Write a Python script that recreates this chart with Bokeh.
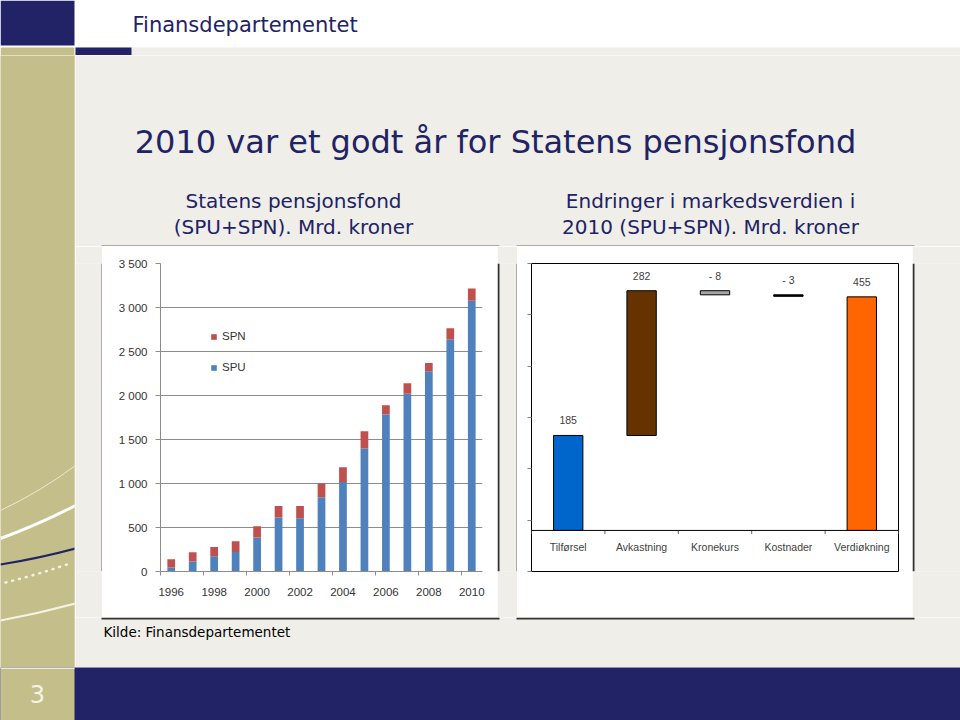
from bokeh.plotting import figure
from bokeh.layouts import column, row
from bokeh.models import (Range1d, FactorRange, FixedTicker, Legend, LegendItem,
                          Span, ColumnDataSource)
from bokeh.core.properties import value
from bokeh.embed import file_html
from bokeh.resources import INLINE

# ---------------- data ----------------
years = list(range(1996, 2011))
spu = [45, 113, 172, 222, 386, 614, 604, 845, 1016, 1399, 1784, 2019, 2275, 2640, 3077]
spn = [95, 107, 106, 123, 129, 131, 141, 155, 169, 196, 106, 121, 95, 125, 138]
left_y_ticks = [0, 500, 1000, 1500, 2000, 2500, 3000, 3500]
left_x_label_years = years[::2]

wf_cats = ["Tilførsel", "Avkastning", "Kronekurs", "Kostnader", "Verdiøkning"]
wf_vals = [185, 282, -8, -3, 455]
wf_colors = ["#0066CC", "#663300", "#A6A6A6", "#000000", "#FF6600"]
wf_ticks = [-80, 20, 120, 220, 320, 420, 520]

header_text = "Finansdepartementet"
title_text = "2010 var et godt år for Statens pensjonsfond"
sub_left = ["Statens pensjonsfond", "(SPU+SPN). Mrd. kroner"]
sub_right = ["Endringer i markedsverdien i", "2010 (SPU+SPN). Mrd. kroner"]
source_text = "Kilde: Finansdepartementet"
page_no = "3"

# ---------------- style ----------------
NAVY = "#222266"
OLIVE = "#C4BE8B"
GREY = "#EFEEE8"
EDGE_LT = "#6a6a6a"
EDGE_DK = "#333333"
SLIDE_FONT = value("DejaVu Sans")
CHART_FONT = "Liberation Sans"
BOX_W, BOX_H = 395, 371
GAP_L, GAP_M, GAP_R = 27, 20, 48


def deco(w, h, x1, y1, bg, y0=0):
    p = figure(width=w, height=h, x_range=Range1d(0, x1), y_range=Range1d(y1, y0),
               output_backend="svg", toolbar_location=None, min_border=0,
               x_axis_location=None, y_axis_location=None)
    p.grid.visible = False
    p.outline_line_color = None
    p.background_fill_color = bg
    p.border_fill_color = bg
    return p


# ---------------- header ----------------
hdr = deco(960, 55, 960, 55, "white")
hdr.quad(left=[0, 0, 74, 75], right=[74, 74, 960, 131], top=[0, 47, 47, 47],
         bottom=[45, 55, 55, 55], fill_color=[NAVY, OLIVE, GREY, NAVY], line_color=None)
hdr.text(x=[132], y=[24], text=[header_text], text_font=SLIDE_FONT, text_font_size="21px",
         text_color=NAVY, text_baseline="middle")

# ---------------- left decorative strip ----------------
strip = deco(75, 612, 75, 667, OLIVE, y0=55)
strip.quadratic(x0=0, y0=510, x1=75, y1=465, cx=40, cy=491, line_color="#ECE9CF", line_width=1)
strip.quadratic(x0=0, y0=538, x1=75, y1=505, cx=38, cy=524, line_color="white", line_width=3)
strip.quadratic(x0=0, y0=564, x1=75, y1=548, cx=38, cy=558, line_color=NAVY, line_width=2)
strip.quadratic(x0=5, y0=582, x1=72, y1=562, cx=38, cy=574, line_color="#F4F2E2",
                line_width=2.5, line_dash="1 6", line_cap="round")
strip.quadratic(x0=0, y0=620, x1=75, y1=603, cx=38, cy=613, line_color="#F4F2E2", line_width=2)
strip.quad(left=[74], right=[75], top=[55], bottom=[667], fill_color="#E4E1CC", line_color=None)

# box edges (frames of the two pasted charts), in slide-content pixels
box_lefts = [GAP_L, GAP_L + BOX_W + GAP_M]
box_rights = [b + BOX_W for b in box_lefts]

# ---------------- title band ----------------
tb = deco(885, 191, 885, 191, GREY)
tb.text(x=[420], y=[86], text=[title_text], text_font=SLIDE_FONT, text_font_size="32px",
        text_color=NAVY, text_align="center", text_baseline="middle")
tb.text(x=[218, 218], y=[145, 171], text=sub_left, text_font=SLIDE_FONT, text_font_size="20px",
        text_color=NAVY, text_align="center", text_baseline="middle")
tb.text(x=[635, 635], y=[145, 171], text=sub_right, text_font=SLIDE_FONT, text_font_size="20px",
        text_color=NAVY, text_align="center", text_baseline="middle")
tb.quad(left=[b - 1 for b in box_lefts], right=[r + 2 for r in box_rights],
        top=[190, 190], bottom=[191, 191], fill_color=EDGE_LT, line_color=None)

# ---------------- left chart: stacked bars ----------------
lc = figure(width=BOX_W, height=BOX_H, x_range=Range1d(1995.5, 2010.5), y_range=Range1d(0, 3500),
            output_backend="svg", toolbar_location=None,
            min_border_left=58, min_border_right=15, min_border_top=17, min_border_bottom=46)
lc.background_fill_color = "white"
lc.border_fill_color = "white"
lc.outline_line_color = None
src = ColumnDataSource(dict(year=years, SPU=spu, SPN=spn))
rs = lc.vbar_stack(["SPU", "SPN"], x="year", width=0.36, source=src,
                   fill_color=["#4F81BD", "#C0504D"], line_color=None)
lc.xgrid.visible = False
lc.ygrid.ticker = FixedTicker(ticks=left_y_ticks)
lc.ygrid.grid_line_color = "#8C8C8C"
lc.yaxis.ticker = FixedTicker(ticks=left_y_ticks)
lc.yaxis.major_label_overrides = {t: f"{t:,}".replace(",", " ") for t in left_y_ticks}
lc.xaxis.ticker = FixedTicker(ticks=left_x_label_years,
                              minor_ticks=[y - 0.5 for y in left_x_label_years])
for ax in (lc.xaxis, lc.yaxis):
    ax.axis_line_color = "#8C8C8C"
    ax.major_tick_line_color = "#8C8C8C"
    ax.minor_tick_line_color = "#8C8C8C"
    ax.major_label_text_font = CHART_FONT
    ax.major_label_text_font_size = "11.5px"
    ax.major_label_text_color = "#333333"
    ax.major_tick_in = 0
    ax.minor_tick_in = 0
lc.yaxis.major_tick_out = 5
lc.yaxis.minor_tick_out = 0
lc.yaxis.major_label_standoff = 8
lc.xaxis.major_tick_out = 0
lc.xaxis.minor_tick_out = 4
lc.xaxis.major_label_standoff = 12
legend = Legend(items=[LegendItem(label="SPN", renderers=[rs[1]]),
                       LegendItem(label="SPU", renderers=[rs[0]])],
                location=(50, 196), glyph_width=7, glyph_height=7, label_height=16,
                spacing=15, padding=0, margin=0, border_line_color=None,
                background_fill_alpha=0, label_standoff=5,
                label_text_font=CHART_FONT, label_text_font_size="11.5px",
                label_text_color="#333333")
lc.add_layout(legend)

# ---------------- right chart: waterfall ----------------
bottoms, tops = [], []
run = 0
for i, v in enumerate(wf_vals):
    if i == len(wf_vals) - 1:
        b, t = 0, v
    else:
        b, t = run, run + v
        run += v
    bottoms.append(min(b, t))
    tops.append(max(b, t))
wf_labels = [str(v) if v >= 0 else f"- {abs(v)}" for v in wf_vals]

rc = figure(width=BOX_W, height=BOX_H, x_range=FactorRange(factors=wf_cats),
            y_range=Range1d(-80, 520), output_backend="svg", toolbar_location=None,
            x_axis_location=None,
            min_border_left=14, min_border_right=14, min_border_top=14, min_border_bottom=13)
rc.background_fill_color = "white"
rc.border_fill_color = "white"
rc.outline_line_color = "black"
rc.outline_line_width = 1
rc.grid.visible = False
rc.yaxis.ticker = FixedTicker(ticks=wf_ticks)
rc.yaxis.major_label_overrides = {t: "" for t in wf_ticks}
rc.yaxis.major_label_standoff = 0
rc.yaxis.axis_line_color = None
rc.yaxis.major_tick_line_color = "#808080"
rc.yaxis.major_tick_out = 4
rc.yaxis.major_tick_in = 0
rc.yaxis.minor_tick_line_color = None

rc.vbar(x=wf_cats, bottom=bottoms, top=tops, width=0.4, fill_color=wf_colors,
        line_color="black", line_width=1)
rc.add_layout(Span(location=0, dimension="width", line_color="black", line_width=1))
bounds = list(range(len(wf_cats) + 1))
rc.segment(x0=bounds, y0=[0] * len(bounds), x1=bounds, y1=[-7] * len(bounds),
           line_color="#606060", line_width=1)
rc.text(x=wf_cats, y=[0] * len(wf_cats), text=wf_cats, y_offset=17,
        text_align="center", text_baseline="middle", text_font=value(CHART_FONT),
        text_font_size="10.5px", text_color="#404040")
rc.text(x=wf_cats, y=tops, text=wf_labels, y_offset=-15,
        text_align="center", text_baseline="middle", text_font=value(CHART_FONT),
        text_font_size="10.5px", text_color="#404040")

# ---------------- source + footer ----------------
kb = deco(885, 50, 885, 50, GREY)
kb.text(x=[28], y=[14], text=[source_text], text_font=SLIDE_FONT, text_font_size="13.5px",
        text_color="black", text_baseline="middle")
kb.quad(left=[b - 1 for b in box_lefts], right=[r + 2 for r in box_rights],
        top=[0, 0], bottom=[2, 2], fill_color=EDGE_DK, line_color=None)

ft = deco(960, 53, 960, 53, NAVY)
ft.quad(left=[0], right=[74], top=[0], bottom=[53], fill_color=OLIVE, line_color=None)
ft.quad(left=[0], right=[74], top=[0], bottom=[1.5], fill_color="#EEECDD", line_color=None)
ft.text(x=[37], y=[26], text=[page_no], text_font=SLIDE_FONT, text_font_size="24px",
        text_color="#F6F4E8", text_align="center", text_baseline="middle")

# gaps between the charts, carrying the side edges of the chart frames
gap_l = deco(GAP_L, BOX_H, GAP_L, BOX_H, GREY)
gap_l.quad(left=[GAP_L - 1], right=[GAP_L], top=[0], bottom=[BOX_H], fill_color=EDGE_LT,
           line_color=None)
gap_m = deco(GAP_M, BOX_H, GAP_M, BOX_H, GREY)
gap_m.quad(left=[0, GAP_M - 1], right=[2, GAP_M], top=[0, 0], bottom=[BOX_H, BOX_H],
           fill_color=[EDGE_DK, EDGE_LT], line_color=None)
gap_r = deco(GAP_R, BOX_H, GAP_R, BOX_H, GREY)
gap_r.quad(left=[0], right=[2], top=[0], bottom=[BOX_H], fill_color=EDGE_DK, line_color=None)

content = column(tb, row(gap_l, lc, gap_m, rc, gap_r), kb)
page = column(hdr, row(strip, content), ft)

open("out.html", "w").write(file_html(page, INLINE))
